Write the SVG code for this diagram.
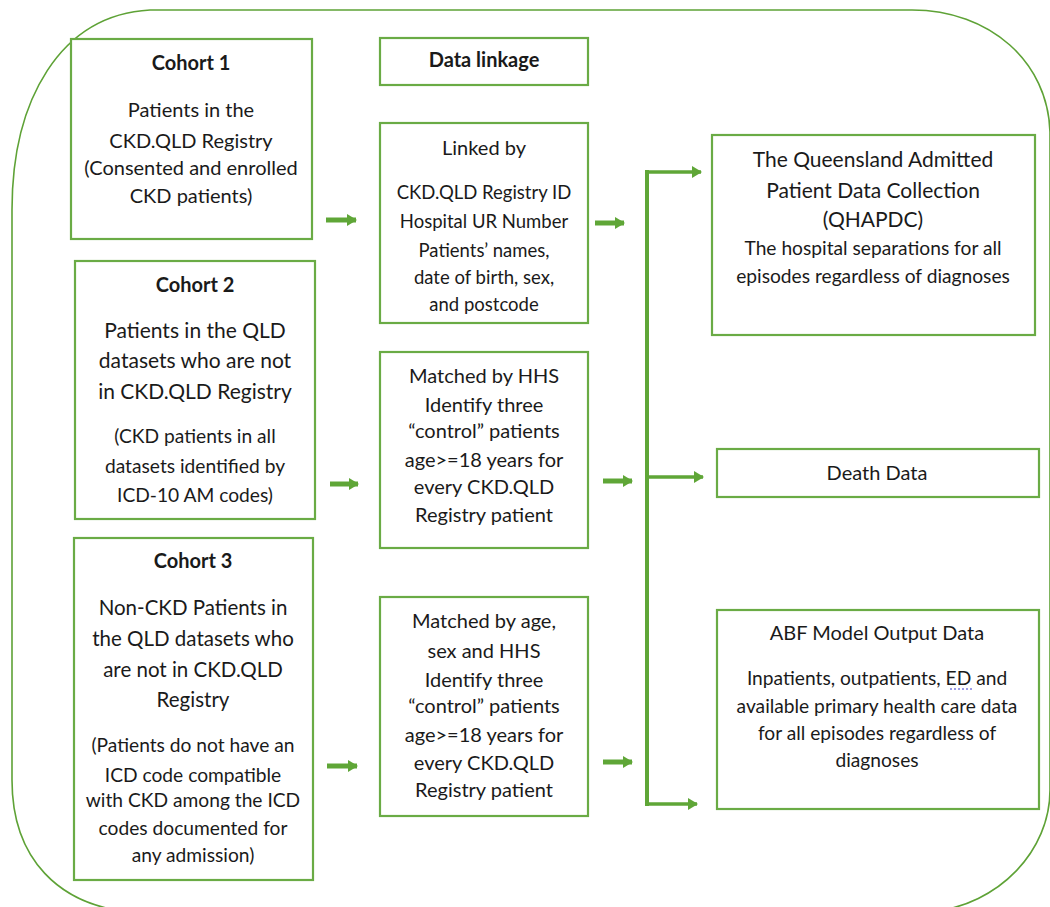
<svg xmlns="http://www.w3.org/2000/svg" width="1050" height="907" viewBox="0 0 1050 907">
<defs>
<style>
.box{fill:#fff;stroke:#6aab45;stroke-width:2.2}
.t{font-family:Lato,"Open Sans","Liberation Sans",sans-serif;font-size:20px;fill:#1a1a1a;text-anchor:middle}
.s{font-size:18.5px}
.m21{font-size:21px}
.m205{font-size:20.5px}
.s19{font-size:19.2px}
.b{font-weight:bold}
.con{stroke:#5fa637;fill:none}
.arr{stroke:#5fa637;stroke-width:5;fill:none;marker-end:url(#ah)}
.arr2{stroke:#5fa637;stroke-width:3.5;fill:none;marker-end:url(#ah)}
</style>
<marker id="ah" markerUnits="userSpaceOnUse" markerWidth="10" markerHeight="12" refX="9" refY="6" orient="auto"><path d="M0,0 L10,6 L0,12 Z" fill="#5fa637"/></marker>
</defs>
<rect width="1050" height="907" fill="#fff"/>
<path id="frame" d="M150,10 H912 C990,10 1048,62 1050,132 V790 C1050,850 1000,905 930,912 H130 C60,905 12,860 12,780 V210 C12,100 60,15 150,10 Z" fill="none" stroke="#5ea236" stroke-width="1.6"/>

<g id="connectors">
<line class="arr" x1="326" y1="220" x2="356" y2="220"/>
<line class="arr" x1="595" y1="223" x2="624" y2="223"/>
<line class="arr" x1="330" y1="484" x2="358" y2="484"/>
<line class="arr" x1="603" y1="481" x2="632" y2="481"/>
<line class="arr" x1="327" y1="766" x2="357" y2="766"/>
<line class="arr" x1="603" y1="762" x2="632" y2="762"/>
<path class="con" d="M647,170 V806" stroke-width="4"/>
<line class="arr2" x1="645" y1="172" x2="701" y2="172"/>
<line class="arr2" x1="647" y1="477" x2="703" y2="477"/>
<line class="arr2" x1="645" y1="804" x2="697" y2="804"/>
</g>

<g id="cohort1">
<rect class="box" x="71" y="39" width="241" height="200"/>
<text class="t b" x="191" y="70">Cohort 1</text>
<text class="t" x="191" y="117">Patients in the</text>
<text class="t" x="191" y="148">CKD.QLD Registry</text>
<text class="t" x="191" y="175">(Consented and enrolled</text>
<text class="t" x="191" y="203">CKD patients)</text>
</g>

<g id="cohort2">
<rect class="box" x="75" y="261" width="240" height="258"/>
<text class="t b" x="195" y="292">Cohort 2</text>
<text class="t m21" x="195" y="338">Patients in the QLD</text>
<text class="t m21" x="195" y="368">datasets who are not</text>
<text class="t m21" x="195" y="399">in CKD.QLD Registry</text>
<text class="t s19" x="195" y="443">(CKD patients in all</text>
<text class="t s19" x="195" y="473">datasets identified by</text>
<text class="t s19" x="195" y="502">ICD-10 AM codes)</text>
</g>

<g id="cohort3">
<rect class="box" x="74" y="538" width="239" height="342"/>
<text class="t b" x="193" y="568">Cohort 3</text>
<text class="t m205" x="193" y="615">Non-CKD Patients in</text>
<text class="t m205" x="193" y="646">the QLD datasets who</text>
<text class="t m205" x="193" y="677">are not in CKD.QLD</text>
<text class="t m205" x="193" y="707">Registry</text>
<text class="t s19" x="193" y="752">(Patients do not have an</text>
<text class="t s19" x="193" y="782">ICD code compatible</text>
<text class="t s19" x="193" y="807">with CKD among the ICD</text>
<text class="t s19" x="193" y="835">codes documented for</text>
<text class="t s19" x="193" y="862">any admission)</text>
</g>

<g id="datalinkage">
<rect class="box" x="380" y="38" width="208" height="47"/>
<text class="t b" x="484" y="67">Data linkage</text>
</g>

<g id="linkedby">
<rect class="box" x="380" y="123" width="208" height="200"/>
<text class="t" x="484" y="155">Linked by</text>
<text class="t s" x="484" y="199">CKD.QLD Registry ID</text>
<text class="t s" x="484" y="228">Hospital UR Number</text>
<text class="t s" x="484" y="257">Patients’ names,</text>
<text class="t s" x="484" y="284">date of birth, sex,</text>
<text class="t s" x="484" y="311">and postcode</text>
</g>

<g id="matchedhhs">
<rect class="box" x="380" y="352" width="208" height="196"/>
<text class="t" x="484" y="383">Matched by HHS</text>
<text class="t" x="484" y="412">Identify three</text>
<text class="t" x="484" y="438">“control” patients</text>
<text class="t" x="484" y="467">age&gt;=18 years for</text>
<text class="t" x="484" y="494">every CKD.QLD</text>
<text class="t" x="484" y="522">Registry patient</text>
</g>

<g id="matchedage">
<rect class="box" x="380" y="597" width="208" height="219"/>
<text class="t" x="484" y="628">Matched by age,</text>
<text class="t" x="484" y="658">sex and HHS</text>
<text class="t" x="484" y="687">Identify three</text>
<text class="t" x="484" y="713">“control” patients</text>
<text class="t" x="484" y="742">age&gt;=18 years for</text>
<text class="t" x="484" y="770">every CKD.QLD</text>
<text class="t" x="484" y="797">Registry patient</text>
</g>

<g id="qhapdc">
<rect class="box" x="712" y="135" width="323" height="200"/>
<text class="t m21" x="873" y="167">The Queensland Admitted</text>
<text class="t m21" x="873" y="198">Patient Data Collection</text>
<text class="t m21" x="873" y="227">(QHAPDC)</text>
<text class="t s19" x="873" y="255">The hospital separations for all</text>
<text class="t s19" x="873" y="283">episodes regardless of diagnoses</text>
</g>

<g id="death">
<rect class="box" x="717" y="449" width="322" height="48"/>
<text class="t" x="877" y="480">Death Data</text>
</g>

<g id="abf">
<rect class="box" x="717" y="610" width="322" height="199"/>
<text class="t" x="877" y="640">ABF Model Output Data</text>
<text class="t s19" x="877" y="685">Inpatients, outpatients, ED and</text>
<text class="t s19" x="877" y="713">available primary health care data</text>
<text class="t s19" x="877" y="740">for all episodes regardless of</text>
<text class="t s19" x="877" y="767">diagnoses</text>
<line x1="950" y1="689" x2="973" y2="689" stroke="#3b3bd0" stroke-width="1.2" stroke-dasharray="2,2"/>
</g>
</svg>
